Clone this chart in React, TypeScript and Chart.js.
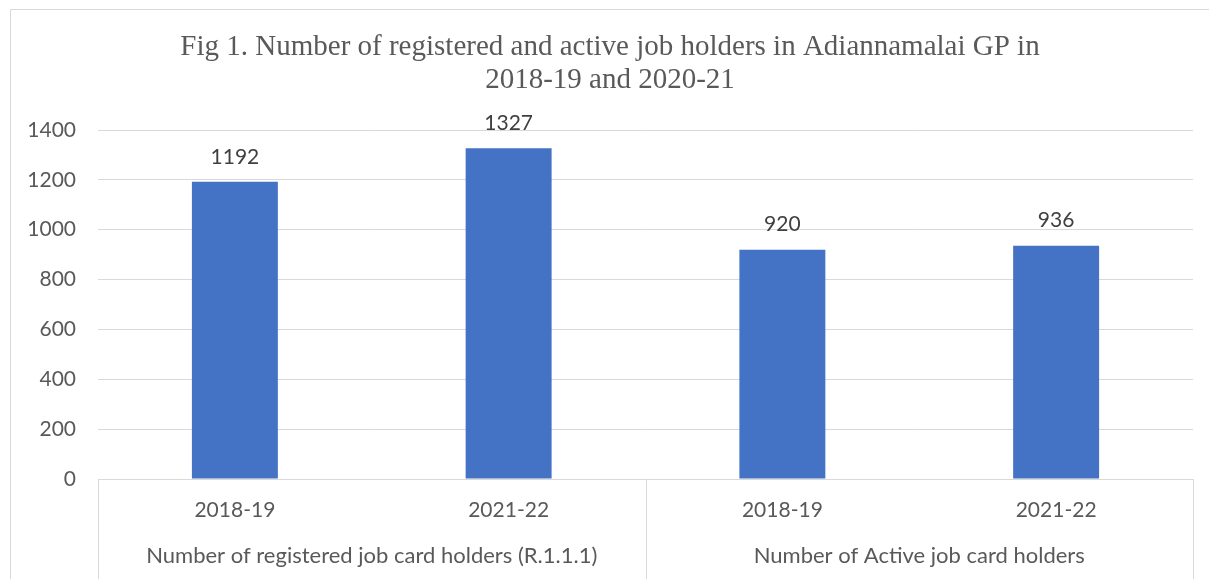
import React, { useEffect, useRef } from 'react';
import { Chart, registerables } from 'chart.js';

Chart.register(...registerables);

const titleLines = ['Fig 1. Number of registered and active job holders in Adiannamalai GP in', '2018-19 and 2020-21'];
const categories = ['2018-19', '2021-22', '2018-19', '2021-22'];
const groups = ['Number of registered job card holders (R.1.1.1)', 'Number of Active job card holders'];
const groupSizes = [2, 2];
const values = [1192, 1327, 920, 936];
const yMin = 0;
const yMax = 1400;
const yStep = 200;

const TEXT = '#595959';
const GRID = '#d9d9d9';
const BAR = '#4472C4';
const SANS = 'Lato, "Open Sans", sans-serif';
const SERIF = '"Liberation Serif", "Times New Roman", serif';
const FS = 21;

const decorPlugin = {
  id: 'decor',
  beforeDraw(chart: any) {
    const ctx = chart.ctx;
    ctx.save();
    ctx.strokeStyle = GRID;
    ctx.lineWidth = 1;
    ctx.beginPath();
    ctx.moveTo(10.5, chart.height);
    ctx.lineTo(10.5, 9.5);
    ctx.lineTo(chart.width, 9.5);
    ctx.stroke();
    ctx.fillStyle = TEXT;
    ctx.font = `29px ${SERIF}`;
    ctx.textAlign = 'center';
    ctx.textBaseline = 'middle';
    const cx = 610;
    titleLines.forEach((t, i) => ctx.fillText(t, cx, 47 + i * 33));
    ctx.restore();
  },
  afterDraw(chart: any) {
    const ctx = chart.ctx;
    const x = chart.scales.x;
    const area = chart.chartArea;
    ctx.save();
    ctx.strokeStyle = GRID;
    ctx.lineWidth = 1;
    const half = (x.getPixelForValue(1) - x.getPixelForValue(0)) / 2;
    let idx = 0;
    const bounds: number[] = [x.getPixelForValue(0) - half];
    const centers: number[] = [];
    groupSizes.forEach((n) => {
      const start = x.getPixelForValue(idx) - half;
      const end = x.getPixelForValue(idx + n - 1) + half;
      centers.push((start + end) / 2);
      bounds.push(end);
      idx += n;
    });
    ctx.beginPath();
    bounds.forEach((b) => {
      const bx = Math.round(b) + 0.5;
      ctx.moveTo(bx, area.bottom);
      ctx.lineTo(bx, chart.height);
    });
    ctx.stroke();
    ctx.fillStyle = TEXT;
    ctx.font = `22px ${SANS}`;
    ctx.textAlign = 'center';
    ctx.textBaseline = 'middle';
    groups.forEach((g, i) => ctx.fillText(g, centers[i], 556));
    const meta = chart.getDatasetMeta(0);
    ctx.font = `${FS}px ${SANS}`;
    ctx.fillStyle = '#404040';
    meta.data.forEach((bar: any, i: number) => {
      ctx.fillText(String(values[i]), bar.x, bar.y - 25);
    });
    ctx.restore();
  },
};

export default function App() {
  const ref = useRef<HTMLCanvasElement>(null);
  useEffect(() => {
    if (!ref.current) return;
    const chart = new Chart(ref.current, {
      type: 'bar',
      data: {
        labels: categories,
        datasets: [
          {
            data: values,
            backgroundColor: BAR,
            categoryPercentage: 1,
            barPercentage: 0.314,
          },
        ],
      },
      options: {
        animation: false,
        responsive: true,
        maintainAspectRatio: false,
        layout: { padding: { top: 130, right: 16, left: 0, bottom: 0 } },
        plugins: { legend: { display: false }, tooltip: { enabled: false }, title: { display: false } },
        scales: {
          x: {
            grid: { display: false, drawTicks: false },
            border: { display: true, color: GRID },
            ticks: { color: TEXT, font: { family: SANS, size: FS }, padding: 19 },
            afterFit: (s: any) => { s.height = 100; },
          },
          y: {
            min: yMin,
            max: yMax,
            grid: { color: GRID, drawTicks: false },
            border: { display: false },
            ticks: {
              stepSize: yStep,
              color: TEXT,
              font: { family: SANS, size: FS },
              padding: 22,
              callback: (v: any) => String(v),
            },
            afterFit: (s: any) => { s.width = 98; },
          },
        },
      },
      plugins: [decorPlugin],
    });
    return () => chart.destroy();
  }, []);
  return (
    <div style={{ position: 'absolute', left: 0, top: 0, width: 1209, height: 579, background: '#fff' }}>
      <canvas ref={ref} />
    </div>
  );
}
